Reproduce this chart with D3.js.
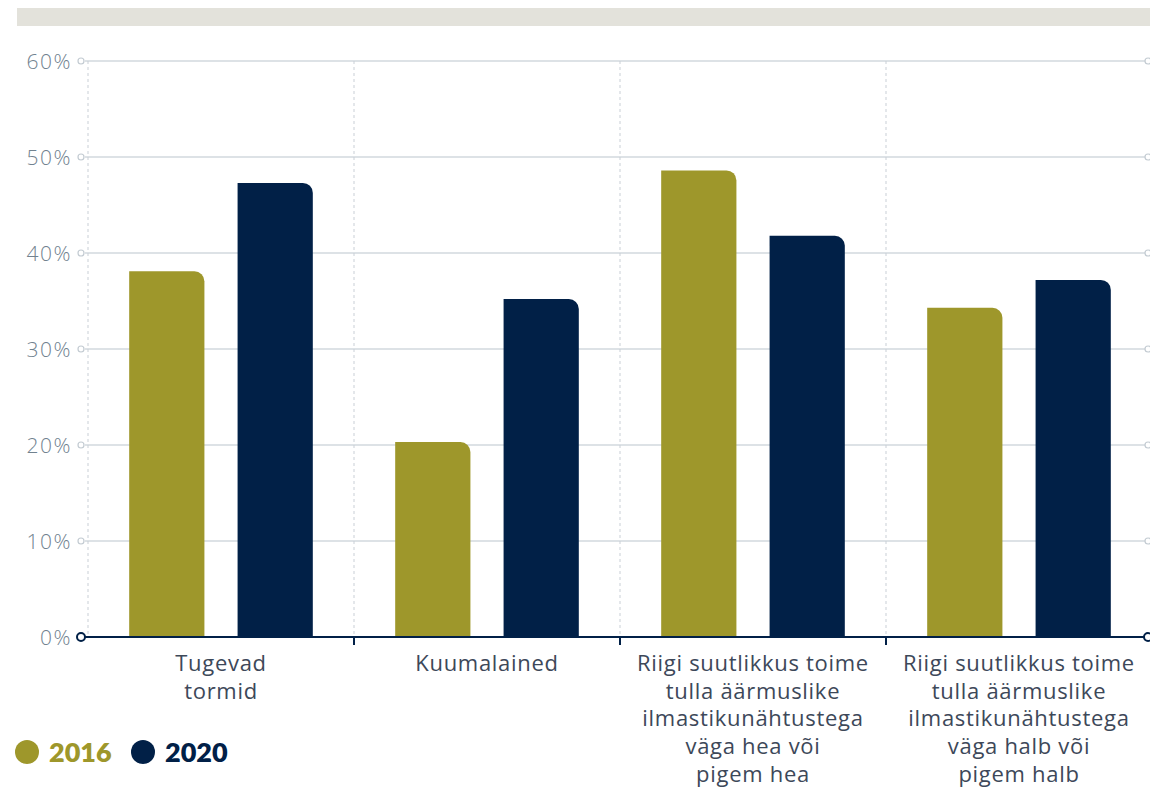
<!DOCTYPE html>
<html><head><meta charset="utf-8">
<script src="https://cdn.jsdelivr.net/npm/d3@7"></script>
<style>body{margin:0;background:#fff;} svg{display:block;}</style>
</head><body><svg id="c" width="1150" height="791"></svg>
<script>
const categories = [
  ["Tugevad", "tormid"],
  ["Kuumalained"],
  ["Riigi suutlikkus toime", "tulla äärmuslike", "ilmastikunähtustega", "väga hea või", "pigem hea"],
  ["Riigi suutlikkus toime", "tulla äärmuslike", "ilmastikunähtustega", "väga halb või", "pigem halb"]
];
const seriesNames = ["2016", "2020"];
const values2016 = [38.1, 20.3, 48.6, 34.3];
const values2020 = [47.3, 35.2, 41.8, 37.2];
const yTicks = [0, 10, 20, 30, 40, 50, 60];
const colors = {"2016": "#9e972b", "2020": "#012047"};

const svg = d3.select("#c");
svg.append("rect").attr("x", 17).attr("y", 8).attr("width", 1133).attr("height", 18).attr("fill", "#e3e2db");

const x0 = d3.scaleBand().domain(d3.range(categories.length)).range([88, 1152]).padding(0);
const x1 = d3.scaleBand().domain(seriesNames).range([0, x0.bandwidth()]).paddingInner(0.306).paddingOuter(0.38);
const y = d3.scaleLinear().domain([0, 60]).range([637, 61]);

const gl = 83, gr = 1148;
const grid = svg.append("g");
yTicks.filter(t => t > 0).forEach(t => {
  grid.append("line").attr("x1", gl + 2).attr("x2", gr - 2).attr("y1", y(t)).attr("y2", y(t))
    .attr("stroke", "#d2d8de").attr("stroke-width", 1.4);
  [gl - 2, gr].forEach(cx => grid.append("circle").attr("cx", cx).attr("cy", y(t)).attr("r", 3)
    .attr("fill", "#fff").attr("stroke", "#c3cbd2").attr("stroke-width", 1.2));
});
d3.range(categories.length).forEach(i => {
  grid.append("line").attr("x1", x0(i)).attr("x2", x0(i)).attr("y1", y(60)).attr("y2", y(0))
    .attr("stroke", "#c9cfd6").attr("stroke-width", 1).attr("stroke-dasharray", "3,3");
});

const yAxis = d3.axisLeft(y).tickValues(yTicks).tickFormat(d => d + "%").tickSize(0).tickPadding(0);
const ya = svg.append("g").attr("transform", "translate(72,0)").call(yAxis);
ya.select(".domain").remove();
ya.selectAll("text").attr("fill", "#71828f").attr("font-family", "'Open Sans', sans-serif").attr("font-weight", 300)
  .attr("font-size", 21).attr("letter-spacing", 1.5).attr("dy", "0.35em");

function barPath(x, yTop, w, h, r) {
  r = Math.min(r, h, w);
  return `M${x},${yTop + h}V${yTop}H${x + w - r}A${r},${r} 0 0 1 ${x + w},${yTop + r}V${yTop + h}Z`;
}
const data = [];
categories.forEach((c, i) => {
  data.push({i, s: "2016", v: values2016[i]});
  data.push({i, s: "2020", v: values2020[i]});
});
svg.append("g").selectAll("path").data(data).join("path")
  .attr("d", d => barPath(x0(d.i) + x1(d.s), y(d.v), x1.bandwidth(), y(0) - y(d.v), 10))
  .attr("fill", d => colors[d.s]);

const ax = svg.append("g");
ax.append("line").attr("x1", gl).attr("x2", gr - 3).attr("y1", y(0)).attr("y2", y(0)).attr("stroke", "#012047").attr("stroke-width", 2);
[gl - 2, gr].forEach(cx => ax.append("circle").attr("cx", cx).attr("cy", y(0)).attr("r", 4)
  .attr("fill", "#fff").attr("stroke", "#012047").attr("stroke-width", 2));
d3.range(1, categories.length).forEach(i => {
  ax.append("line").attr("x1", x0(i)).attr("x2", x0(i)).attr("y1", y(0)).attr("y2", y(0) + 8).attr("stroke", "#012047").attr("stroke-width", 2);
});
const lab = svg.append("g");
categories.forEach((lines, i) => {
  const t = lab.append("text").attr("text-anchor", "middle").attr("fill", "#3d4859")
    .attr("font-family", "'Open Sans', sans-serif").attr("font-size", 22).attr("letter-spacing", 0.7);
  lines.forEach((l, k) => t.append("tspan").attr("x", x0(i) + x0.bandwidth() / 2).attr("y", 671 + k * 27.7).text(l));
});

const lg = svg.append("g");
let lx = 27;
seriesNames.forEach((s, k) => {
  lg.append("circle").attr("cx", lx).attr("cy", 752).attr("r", 12).attr("fill", colors[s]);
  lg.append("text").attr("x", lx + 22).attr("y", 762).attr("fill", colors[s])
    .attr("font-family", "Lato, sans-serif").attr("font-weight", 800).attr("font-size", 27).text(s);
  lx = 143;
});
</script></body></html>
